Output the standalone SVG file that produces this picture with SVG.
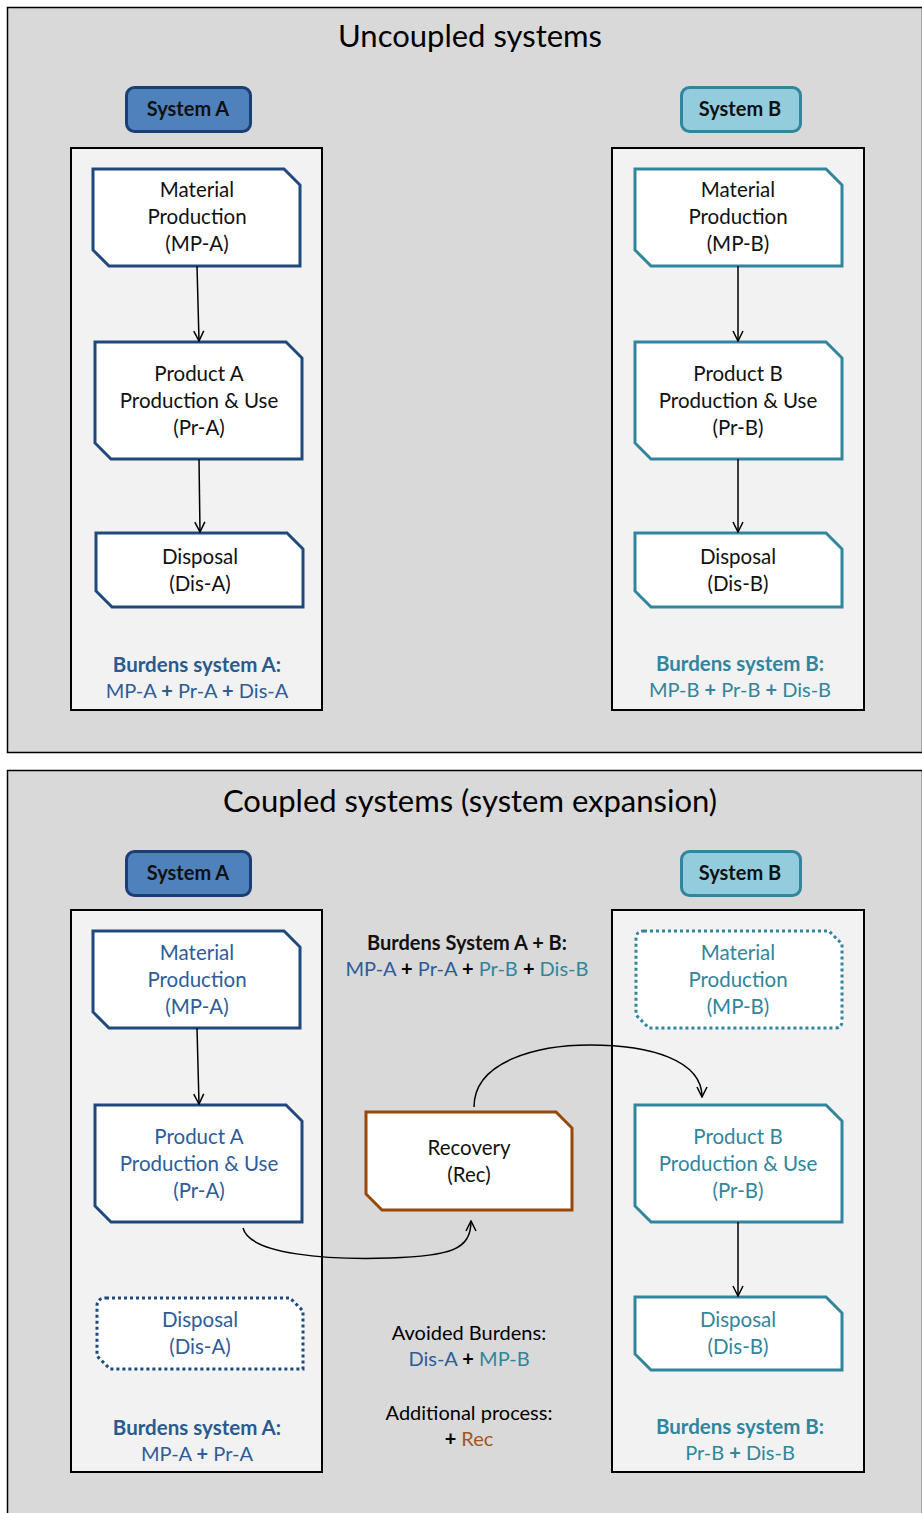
<svg xmlns="http://www.w3.org/2000/svg" width="922" height="1513" viewBox="0 0 922 1513">
<defs>
<style>
text{font-family:Lato,"Open Sans","Liberation Sans",sans-serif;text-anchor:middle}
.panel{fill:#d9d9d9;stroke:#000;stroke-width:1.5}
.cont{fill:#f2f2f2;stroke:#000;stroke-width:2}
.title{font-size:31px;fill:#000}
.lblA{fill:#4f81bd;stroke:#1c3f73;stroke-width:3}
.lblB{fill:#93cddd;stroke:#31859c;stroke-width:3}
.lbl{font-size:20px;font-weight:bold;fill:#111}
.nA{fill:#fff;stroke:#1f497d;stroke-width:3}
.nB{fill:#fff;stroke:#31859c;stroke-width:3}
.nR{fill:#fff;stroke:#984807;stroke-width:3}
.dot{stroke-dasharray:3 3}
.t{font-size:20.5px;fill:#111}
.tA{fill:#2e5c99}
.tB{fill:#31859c}
.tR{fill:#a3561c}
.bA{font-size:20.5px;font-weight:bold;fill:#2a5a8e}
.bB{font-size:20.5px;font-weight:bold;fill:#31859c}
.bk{font-size:20px;font-weight:bold;fill:#111}
.e{font-size:20px}
.conn{fill:none;stroke:#000;stroke-width:1.5}
</style>
<marker id="ah" viewBox="0 0 12 12" refX="11" refY="6" markerWidth="12" markerHeight="12" markerUnits="userSpaceOnUse" orient="auto">
<path d="M1,1 L11,6 L1,11" fill="none" stroke="#000" stroke-width="1.5"/>
</marker>
</defs>

<g id="panel-top">
<rect class="panel" x="7.5" y="7.5" width="915" height="745"/>
<text class="title" x="470" y="47">Uncoupled systems</text>
</g>
<g id="panel-bottom">
<rect class="panel" x="7.5" y="770.5" width="915" height="750"/>
<text class="title" x="470" y="812">Coupled systems (system expansion)</text>
</g>

<!-- Top panel -->
<g id="top-sysA-label"><rect class="lblA" x="126.5" y="87.5" width="124" height="44" rx="8"/><text class="lbl" x="188" y="116">System A</text></g>
<g id="top-sysB-label"><rect class="lblB" x="681.5" y="87.5" width="119" height="44" rx="8"/><text class="lbl" x="740" y="116">System B</text></g>
<g id="top-contA"><rect class="cont" x="71" y="148" width="251" height="562"/></g>
<g id="top-contB"><rect class="cont" x="612" y="148" width="252" height="562"/></g>

<g id="top-mpa"><path class="nA" d="M93,169 H284 L300,185 V266 H109 L93,250 Z"/>
<text class="t" x="197" y="197">Material</text><text class="t" x="197" y="224">Production</text><text class="t" x="197" y="251">(MP-A)</text></g>
<g id="top-pra"><path class="nA" d="M95,342 H286 L302,358 V459 H111 L95,443 Z"/>
<text class="t" x="199" y="381">Product A</text><text class="t" x="199" y="408">Production &amp; Use</text><text class="t" x="199" y="435">(Pr-A)</text></g>
<g id="top-disa"><path class="nA" d="M96,533 H287 L303,549 V607 H112 L96,591 Z"/>
<text class="t" x="200" y="564">Disposal</text><text class="t" x="200" y="591">(Dis-A)</text></g>

<g id="top-mpb"><path class="nB" d="M635,169 H826 L842,185 V266 H651 L635,250 Z"/>
<text class="t" x="738" y="197">Material</text><text class="t" x="738" y="224">Production</text><text class="t" x="738" y="251">(MP-B)</text></g>
<g id="top-prb"><path class="nB" d="M635,342 H826 L842,358 V459 H651 L635,443 Z"/>
<text class="t" x="738" y="381">Product B</text><text class="t" x="738" y="408">Production &amp; Use</text><text class="t" x="738" y="435">(Pr-B)</text></g>
<g id="top-disb"><path class="nB" d="M635,533 H826 L842,549 V607 H651 L635,591 Z"/>
<text class="t" x="738" y="564">Disposal</text><text class="t" x="738" y="591">(Dis-B)</text></g>

<g id="top-burdA"><text class="bA" x="197" y="672">Burdens system A:</text>
<text class="e tA" x="197" y="698">MP-A <tspan font-weight="bold" fill="#2a5a8e">+</tspan> Pr-A <tspan font-weight="bold">+</tspan> Dis-A</text></g>
<g id="top-burdB"><text class="bB" x="740" y="671">Burdens system B:</text>
<text class="e tB" x="740" y="697">MP-B <tspan font-weight="bold">+</tspan> Pr-B <tspan font-weight="bold">+</tspan> Dis-B</text></g>

<!-- Bottom panel -->
<g id="bot-sysA-label"><rect class="lblA" x="126.5" y="851.5" width="124" height="44" rx="8"/><text class="lbl" x="188" y="880">System A</text></g>
<g id="bot-sysB-label"><rect class="lblB" x="681.5" y="851.5" width="119" height="44" rx="8"/><text class="lbl" x="740" y="880">System B</text></g>
<g id="bot-contA"><rect class="cont" x="71" y="910" width="251" height="562"/></g>
<g id="bot-contB"><rect class="cont" x="612" y="910" width="252" height="562"/></g>

<g id="bot-mpa"><path class="nA" d="M93,931 H284 L300,947 V1028 H109 L93,1012 Z"/>
<text class="t tA" x="197" y="960">Material</text><text class="t tA" x="197" y="987">Production</text><text class="t tA" x="197" y="1014">(MP-A)</text></g>
<g id="bot-pra"><path class="nA" d="M95,1105 H286 L302,1121 V1222 H111 L95,1206 Z"/>
<text class="t tA" x="199" y="1144">Product A</text><text class="t tA" x="199" y="1171">Production &amp; Use</text><text class="t tA" x="199" y="1198">(Pr-A)</text></g>
<g id="bot-disa"><path class="nA dot" d="M106,1298 H290 L303,1311 V1369 H110 L97,1356 V1306 Q97,1298 106,1298 Z"/>
<text class="t tA" x="200" y="1327">Disposal</text><text class="t tA" x="200" y="1354">(Dis-A)</text></g>

<g id="bot-mpb"><path class="nB dot" d="M644,931 H829 L842,944 V1021 Q842,1028 835,1028 H649 L636,1015 V939 Q636,931 644,931 Z"/>
<text class="t tB" x="738" y="960">Material</text><text class="t tB" x="738" y="987">Production</text><text class="t tB" x="738" y="1014">(MP-B)</text></g>
<g id="bot-prb"><path class="nB" d="M635,1105 H826 L842,1121 V1222 H651 L635,1206 Z"/>
<text class="t tB" x="738" y="1144">Product B</text><text class="t tB" x="738" y="1171">Production &amp; Use</text><text class="t tB" x="738" y="1198">(Pr-B)</text></g>
<g id="bot-disb"><path class="nB" d="M635,1297 H826 L842,1313 V1370 H651 L635,1354 Z"/>
<text class="t tB" x="738" y="1327">Disposal</text><text class="t tB" x="738" y="1354">(Dis-B)</text></g>

<g id="bot-rec"><path class="nR" d="M366,1112 H556 L572,1128 V1210 H382 L366,1194 Z"/>
<text class="t" x="469" y="1155">Recovery</text><text class="t" x="469" y="1182">(Rec)</text></g>

<g id="bot-burdAB"><text class="bk" x="467" y="950">Burdens System A + B:</text>
<text class="e" x="467" y="976"><tspan class="tA">MP-A</tspan> <tspan font-weight="bold">+</tspan> <tspan class="tA">Pr-A</tspan> <tspan font-weight="bold">+</tspan> <tspan class="tB">Pr-B</tspan> <tspan font-weight="bold">+</tspan> <tspan class="tB">Dis-B</tspan></text></g>
<g id="bot-avoided"><text class="e" x="469" y="1340">Avoided Burdens:</text>
<text class="e" x="469" y="1366"><tspan class="tA">Dis-A</tspan> <tspan font-weight="bold">+</tspan> <tspan class="tB">MP-B</tspan></text></g>
<g id="bot-additional"><text class="e" x="469" y="1420">Additional process:</text>
<text class="e" x="469" y="1446"><tspan font-weight="bold">+</tspan> <tspan class="tR">Rec</tspan></text></g>

<g id="bot-burdA"><text class="bA" x="197" y="1435">Burdens system A:</text>
<text class="e tA" x="197" y="1461">MP-A <tspan font-weight="bold">+</tspan> Pr-A</text></g>
<g id="bot-burdB"><text class="bB" x="740" y="1434">Burdens system B:</text>
<text class="e tB" x="740" y="1460">Pr-B <tspan font-weight="bold">+</tspan> Dis-B</text></g>

<g id="connectors">
<path class="conn" d="M197,266 L199,341" marker-end="url(#ah)"/>
<path class="conn" d="M199,459 L200,532" marker-end="url(#ah)"/>
<path class="conn" d="M738,266 L738,341" marker-end="url(#ah)"/>
<path class="conn" d="M738,459 L738,532" marker-end="url(#ah)"/>
<path class="conn" d="M197,1028 L199,1104" marker-end="url(#ah)"/>
<path class="conn" d="M738,1222 L738,1296" marker-end="url(#ah)"/>
<path class="conn" d="M243,1228 C250,1255 330,1260 390,1258 C450,1256 471,1250 471,1221" marker-end="url(#ah)"/>
<path class="conn" d="M474,1107 C474,1060 540,1045 590,1045 C650,1045 702,1060 702,1097" marker-end="url(#ah)"/>
</g>
</svg>
